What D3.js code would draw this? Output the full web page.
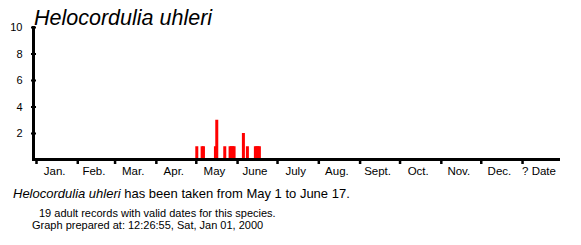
<!DOCTYPE html>
<html>
<head>
<meta charset="utf-8">
<script src="https://cdn.jsdelivr.net/npm/d3@7"></script>
<style>
  body { margin: 0; background: #fff; }
  svg { display: block; font-family: Arial, "Liberation Sans", sans-serif; }
</style>
</head>
<body>
<svg id="chart" width="581" height="245"></svg>
<script>
// species + summary text
var species = "Helocordulia uhleri"
var firstDate = "May 1", lastDate = "June 17"
var nRecords = 19
var preparedAt = "12:26:55, Sat, Jan 01, 2000"

// month labels and the day-of-year each month starts on
var monthLabels = ["Jan.", "Feb.", "Mar.", "Apr.", "May", "June", "July", "Aug.", "Sept.", "Oct.", "Nov.", "Dec.", "? Date"]
var monthStart = [0, 31, 59, 90, 120, 151, 181, 212, 243, 273, 304, 334, 365]
var axisEnd = 393.5

var yTicks = [2, 4, 6, 8, 10]

// adult records per day (month index, day of month, count)
var recMonth = [4, 4, 4, 4, 4, 4, 4, 4, 4, 4, 5, 5, 5, 5, 5, 5]
var recDay   = [1, 5, 6, 15, 16, 22, 26, 27, 28, 29, 5, 8, 14, 15, 16, 17]
var recCount = [1, 1, 1, 1, 3, 1, 1, 1, 1, 1, 2, 1, 1, 1, 1, 1]

var svg = d3.select('#chart')

var x = d3.scaleLinear().domain([0, axisEnd]).range([36, 560])
var y = d3.scaleLinear().domain([0, 10]).range([159.5, 27])

var records = recMonth.map((m, i) => ({
    doy: monthStart[m] + recDay[i] - 1,
    count: recCount[i]
}))

// title
svg.append('text')
    .attr('x', 34)
    .attr('y', 25)
    .attr('style', 'font-size:21.5px;font-style:italic;fill:#000;')
    .text(species)

// bars
svg.append('g').selectAll('rect')
    .data(records)
    .enter()
    .append('rect')
    .attr('x', d => x(d.doy) - 0.5)
    .attr('width', 3)
    .attr('y', d => y(d.count))
    .attr('height', d => y(0) - y(d.count))
    .attr('fill', '#ff0000')

// y axis
var yAxis = svg.append('g')
    .attr('transform', 'translate(33.5,0)')
    .call(d3.axisLeft(y).tickValues(yTicks).tickSize(0).tickPadding(11))
yAxis.select('.domain').remove()
yAxis.selectAll('.tick text')
    .attr('style', 'font-size:11px;fill:#000;font-family:Arial, "Liberation Sans", sans-serif;')
yAxis.selectAll('.tick').append('line')
    .attr('x1', -2.5).attr('x2', 2.5)
    .attr('stroke', '#000').attr('stroke-width', 2)
yAxis.append('line')
    .attr('y1', y(10) - 1).attr('y2', y(0) + 1.5)
    .attr('stroke', '#000').attr('stroke-width', 3)

// x axis
var xAxis = svg.append('g')
    .attr('transform', 'translate(0,159.5)')
    .call(d3.axisBottom(x).tickValues(monthStart).tickSize(4.5).tickFormat(''))
xAxis.select('.domain').remove()
xAxis.selectAll('.tick line').attr('stroke', '#000').attr('stroke-width', 2.5)
xAxis.append('line')
    .attr('x1', 32).attr('x2', x(axisEnd))
    .attr('stroke', '#000').attr('stroke-width', 3)

svg.append('g').selectAll('text')
    .data(monthLabels)
    .enter()
    .append('text')
    .attr('x', (d, i) => {
        var end = i < monthStart.length - 1 ? monthStart[i + 1] : axisEnd
        return (x(monthStart[i]) + x(end)) / 2 - 2
    })
    .attr('y', 175)
    .attr('text-anchor', 'middle')
    .attr('style', 'font-size:11.5px;fill:#000;')
    .text(d => d)

// footer text
var line1 = svg.append('text').attr('x', 13).attr('y', 198).attr('style', 'font-size:13px;fill:#000;')
line1.append('tspan').attr('style', 'font-style:italic;').text(species)
line1.append('tspan').text(` has been taken from ${firstDate} to ${lastDate}.`)

svg.append('text').attr('x', 39).attr('y', 217).attr('style', 'font-size:11px;fill:#000;')
    .text(`${nRecords} adult records with valid dates for this species.`)
svg.append('text').attr('x', 32).attr('y', 229).attr('style', 'font-size:11px;fill:#000;')
    .text(`Graph prepared at: ${preparedAt}`)
</script>
</body>
</html>
